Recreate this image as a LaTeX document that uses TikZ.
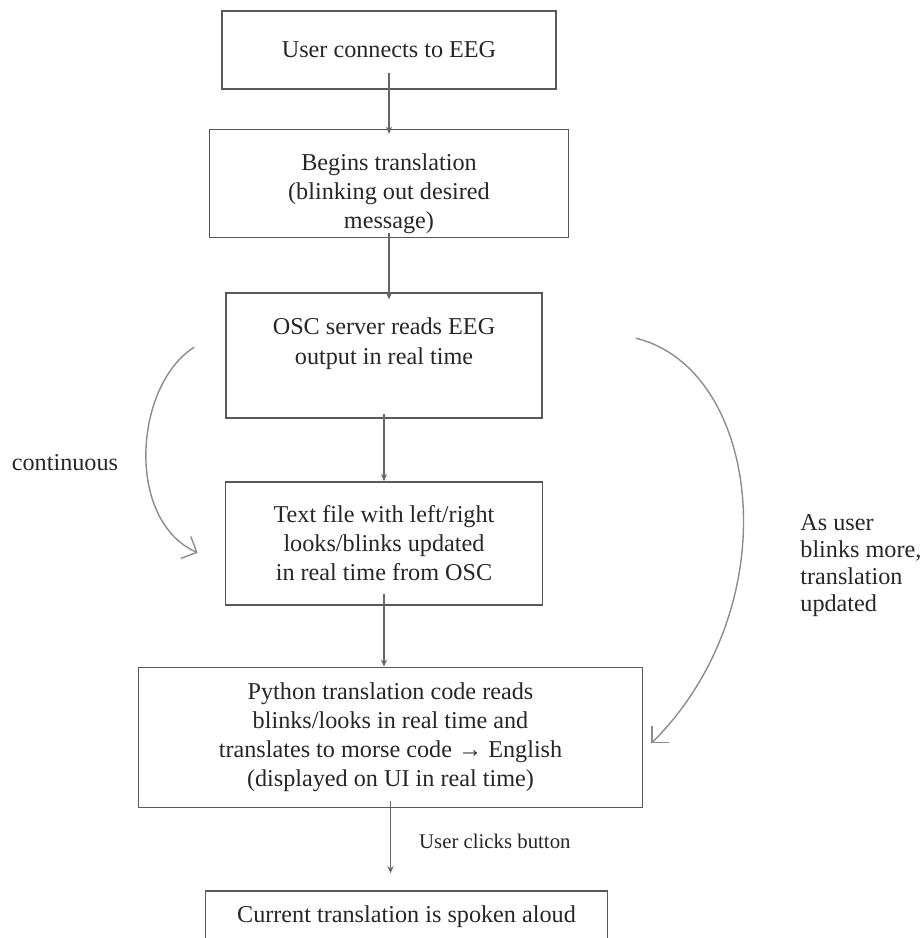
\documentclass[tikz,border=0pt]{standalone}
\usepackage{fontspec}
\setmainfont{Liberation Serif}
\usetikzlibrary{arrows.meta, positioning}

\begin{document}
\begin{tikzpicture}[
    >={Stealth[length=3.5pt,width=3pt]},
    font=\fontsize{12.1}{14.6}\selectfont,
    text=black!85,
    base/.style={draw=black!65, line width=0.8pt, align=center, inner sep=0pt},
    stepbox/.style={base, rectangle},
    arrow/.style={->, line width=0.7pt, black!60},
    sidearrow/.style={line width=0.7pt, black!45, -{Straight Barb[length=6pt,width=12pt]}},
    sidenote/.style={inner sep=0pt, align=left, text=black!85}
  ]
    \useasboundingbox (0,0) rectangle (461pt,-469pt);
    \clip (0,0) rectangle (461pt,-469pt);
    \node[stepbox, minimum width=167pt, minimum height=39pt] (connect) at (194.5pt,-25pt)
    {User connects to EEG};
    \node[stepbox, minimum width=179.5pt, minimum height=54pt, below=19.5pt of connect] (begin)
    {\rule{0pt}{18.3pt}Begins translation\\(blinking out desired\\message)};
    \node[stepbox, minimum width=158pt, minimum height=62.5pt, below=27pt of begin, xshift=-2.5pt] (osc)
    {OSC server reads EEG\\output in real time\\ \mbox{}};
    \node[stepbox, minimum width=158.5pt, minimum height=61.5pt, below=31pt of osc] (textfile)
    {Text file with left/right\\looks/blinks updated\\in real time from OSC};
    \node[stepbox, minimum width=252pt, minimum height=70pt, below=30.5pt of textfile, xshift=3.25pt] (python)
    {Python translation code reads\\blinks/looks in real time and\\translates to morse code → English\\(displayed on UI in real time)};
    \node[stepbox, minimum width=201pt, minimum height=37.5pt, below=41pt of python, xshift=8pt] (speak)
    {Current translation is spoken aloud\\ \mbox{}};
    \draw[arrow, shorten <=-8.5pt, shorten >=-2.5pt] (connect.south) -- (connect.south |- begin.north);
    \draw[arrow, shorten <=-2.5pt, shorten >=-3.5pt] (begin.south) -- (begin.south |- osc.north);
    \draw[arrow, shorten <=-2.5pt] (osc.south) -- (osc.south |- textfile.north);
    \draw[arrow, shorten <=-6pt] (textfile.south) -- (textfile.south |- python.north);
    \draw[arrow, shorten <=-3.5pt, shorten >=8.5pt] (python.south) -- (python.south |- speak.north)
      node[sidenote, pos=0.4, right=14pt, font=\fontsize{10.4}{12.5}\selectfont] (clicklbl) {User clicks button};
    % hand drawn side loops
    \draw[sidearrow] ([xshift=-15.5pt, yshift=4.25pt]osc.west) .. controls +(-30pt,-19pt) and +(-36.5pt,16.5pt) .. ([xshift=-13.5pt, yshift=-4.75pt]textfile.west);
    \draw[sidearrow] ([xshift=46.5pt, yshift=8.75pt]osc.east) .. controls +(62pt,-15pt) and +(70pt,70pt) .. ([xshift=4pt, yshift=-3pt]python.east);
    \node[sidenote] (contlbl) at (32.5pt,-231.5pt) {continuous};
    \node[sidenote, anchor=west, font=\fontsize{12.1}{13.5}\selectfont] (asuser) at (400pt,-282.75pt)
    {As user\\blinks more,\\translation\\updated};
  \end{tikzpicture}
\end{document}
